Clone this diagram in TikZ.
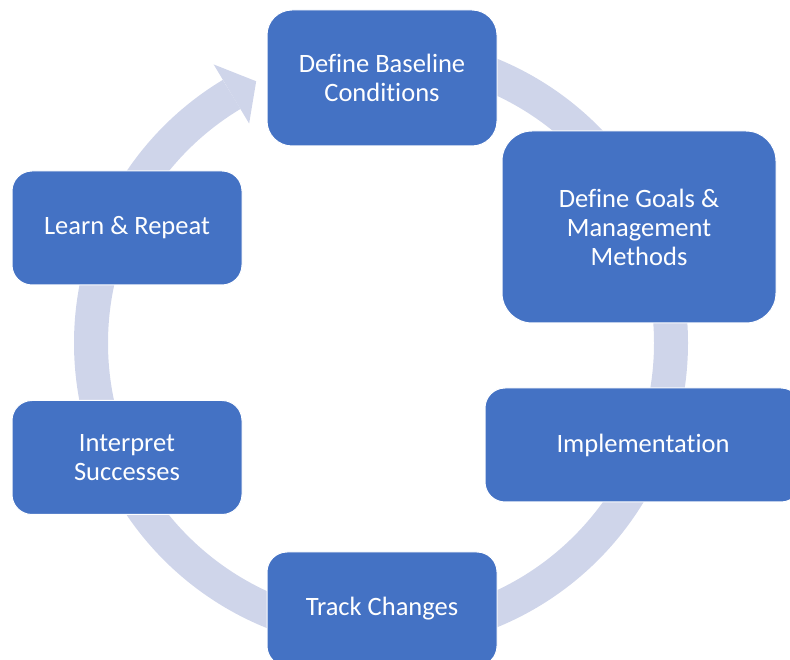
\documentclass[tikz,border=0pt]{standalone}
\usepackage{fontspec}
\setmainfont{Carlito}[Ligatures=CommonOff]
\definecolor{stageblue}{HTML}{4472C4}
\definecolor{ringgray}{HTML}{CFD5EA}
\begin{document}
\begin{tikzpicture}[x=1pt,y=1pt,
  stage/.style={fill=stageblue,draw=white,line width=1pt,rounded corners=20pt,text=white,align=center,
    font=\fontsize{26.5}{29}\selectfont,inner sep=0pt,minimum width=230pt,minimum height=114pt}]
\clip (0,0) rectangle (790,659);
\coordinate (c) at (381,316);
\draw[ringgray,line width=34pt] (c) ++(90:290) arc[start angle=90,end angle=-239,radius=290];
\fill[ringgray,shift={(c)}] (121:325) -- (115.5:290) -- (121:256) -- cycle;
\node[stage,minimum height=136pt,rounded corners=25pt] (base) at (382,581) {Define Baseline\\Conditions};
\node[stage,minimum width=274pt,minimum height=192pt,rounded corners=30pt] (goals) at (639,432) {Define Goals \&\\Management\\Methods};
\node[stage,minimum width=316pt] (impl) at (643,214) {Implementation};
\node[stage] (track) at (382,50) {Track Changes};
\node[stage] (interp) at (127,201.5) {Interpret\\Successes};
\node[stage] (learn) at (127,431) {Learn \& Repeat};
\end{tikzpicture}
\end{document}
